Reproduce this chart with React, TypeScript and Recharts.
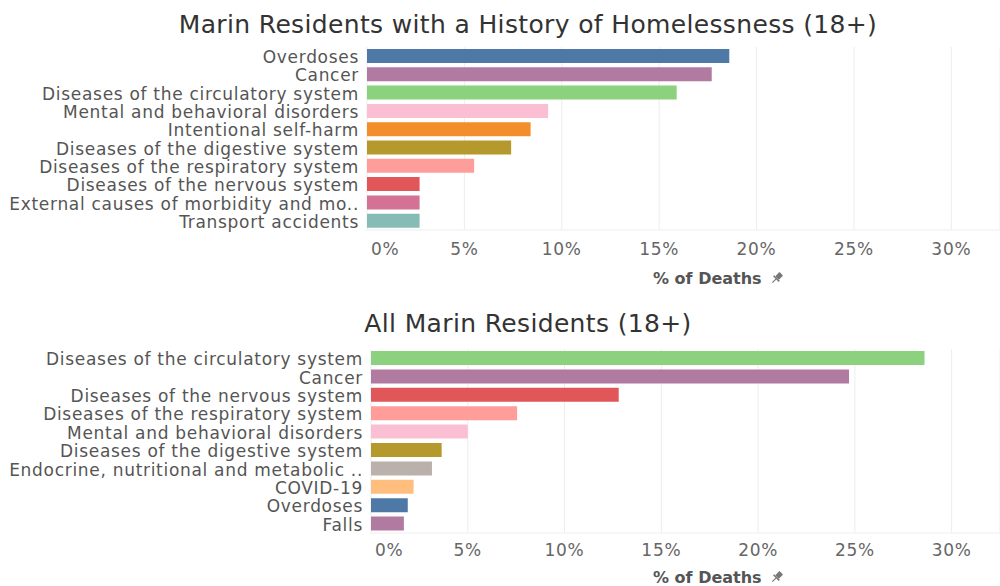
import React from 'react';
import { BarChart, Bar, XAxis, YAxis, CartesianGrid, Cell } from 'recharts';

const FONT = '"DejaVu Sans", "Noto Sans", sans-serif';

// Marin residents with a history of homelessness
const homelessCauses = [
  'Overdoses',
  'Cancer',
  'Diseases of the circulatory system',
  'Mental and behavioral disorders',
  'Intentional self-harm',
  'Diseases of the digestive system',
  'Diseases of the respiratory system',
  'Diseases of the nervous system',
  'External causes of morbidity and mo..',
  'Transport accidents',
];
const homelessPct = [18.6, 17.7, 15.9, 9.3, 8.4, 7.4, 5.5, 2.7, 2.7, 2.7];
const homelessColors = [
  '#4e79a7', '#b07aa1', '#8cd17d', '#fabfd2', '#f28e2b',
  '#b6992d', '#ff9d9a', '#e15759', '#d37295', '#86bcb6',
];

// all Marin residents
const allCauses = [
  'Diseases of the circulatory system',
  'Cancer',
  'Diseases of the nervous system',
  'Diseases of the respiratory system',
  'Mental and behavioral disorders',
  'Diseases of the digestive system',
  'Endocrine, nutritional and metabolic ..',
  'COVID-19',
  'Overdoses',
  'Falls',
];
const allPct = [28.6, 24.7, 12.8, 7.55, 5.0, 3.65, 3.15, 2.2, 1.9, 1.7];
const allColors = [
  '#8cd17d', '#b07aa1', '#e15759', '#ff9d9a', '#fabfd2',
  '#b6992d', '#bab0ac', '#ffbe7d', '#4e79a7', '#b07aa1',
];

const pctTicks = [0, 5, 10, 15, 20, 25, 30];

const XTick = (props: any) => {
  const { x, y, payload } = props;
  const first = payload.value === 0;
  return (
    <text
      x={first ? x + 4 : x}
      y={y}
      dy="0.71em"
      textAnchor={first ? 'start' : 'middle'}
      fill="#666"
      fontSize={17}
      letterSpacing={0.7}
      fontFamily={FONT}
    >
      {`${payload.value}%`}
    </text>
  );
};

const YTick = (props: any) => {
  const { x, y, payload } = props;
  return (
    <text
      x={x}
      y={y}
      dy="0.41em"
      textAnchor="end"
      fill="#555"
      fontSize={17}
      letterSpacing={0.7}
      fontFamily={FONT}
    >
      {payload.value}
    </text>
  );
};

const Pin = () => (
  <svg width="14" height="14" viewBox="0 0 14 14" style={{ marginLeft: 8, verticalAlign: '-1px' }}>
    <g transform="rotate(45 7 7)" fill="#777">
      <rect x="4.5" y="1" width="5" height="6" rx="0.5" />
      <rect x="3" y="7" width="8" height="1.6" />
      <rect x="6.4" y="8.6" width="1.2" height="5" />
    </g>
  </svg>
);

type ChartProps = {
  causes: string[];
  values: number[];
  colors: string[];
  axisWidth: number;
  top: number;
  plotHeight: number;
  tickGap: number;
};

const CauseChart = ({ causes, values, colors, axisWidth, top, plotHeight, tickGap }: ChartProps) => {
  const data = causes.map((c, i) => ({ cause: c, pct: values[i] }));
  return (
    <div style={{ position: 'absolute', left: 0, top }}>
      <BarChart
        layout="vertical"
        width={1000}
        height={plotHeight + 30}
        data={data}
        margin={{ top: 0, right: 0, bottom: 0, left: 0 }}
      >
        <CartesianGrid horizontal={false} stroke="#ededed" />
        <XAxis
          type="number"
          domain={[0, 32.5]}
          ticks={pctTicks}
          axisLine={{ stroke: '#eeeeee' }}
          tickLine={false}
          tickMargin={tickGap}
          tick={<XTick />}
          height={30}
        />
        <YAxis
          type="category"
          dataKey="cause"
          width={axisWidth}
          axisLine={false}
          tickLine={false}
          interval={0}
          tick={<YTick />}
        />
        <Bar dataKey="pct" barSize={14} isAnimationActive={false}>
          {data.map((d, i) => (
            <Cell key={d.cause} fill={colors[i]} />
          ))}
        </Bar>
      </BarChart>
    </div>
  );
};

const titleStyle: React.CSSProperties = {
  position: 'absolute',
  left: 528,
  transform: 'translateX(-50%)',
  whiteSpace: 'nowrap',
  fontSize: 25,
  letterSpacing: 0.35,
  color: '#333',
  fontFamily: FONT,
  lineHeight: '30px',
};

const axisTitleStyle: React.CSSProperties = {
  position: 'absolute',
  left: 653,
  whiteSpace: 'nowrap',
  fontSize: 16,
  fontWeight: 700,
  color: '#555',
  fontFamily: FONT,
  lineHeight: '20px',
};

export default function App() {
  return (
    <div
      style={{
        position: 'fixed',
        left: 0,
        top: 0,
        width: 1000,
        height: 586,
        background: '#fff',
        overflow: 'hidden',
        fontFamily: FONT,
      }}
    >
      <div style={{ ...titleStyle, top: 10 }}>Marin Residents with a History of Homelessness (18+)</div>
      <CauseChart
        causes={homelessCauses}
        values={homelessPct}
        colors={homelessColors}
        axisWidth={367}
        top={47}
        plotHeight={183}
        tickGap={7}
      />
      <div style={{ ...axisTitleStyle, top: 269 }}>
        % of Deaths
        <Pin />
      </div>

      <div style={{ ...titleStyle, top: 309 }}>All Marin Residents (18+)</div>
      <CauseChart
        causes={allCauses}
        values={allPct}
        colors={allColors}
        axisWidth={371}
        top={349}
        plotHeight={184}
        tickGap={5}
      />
      <div style={{ ...axisTitleStyle, top: 568 }}>
        % of Deaths
        <Pin />
      </div>
    </div>
  );
}
